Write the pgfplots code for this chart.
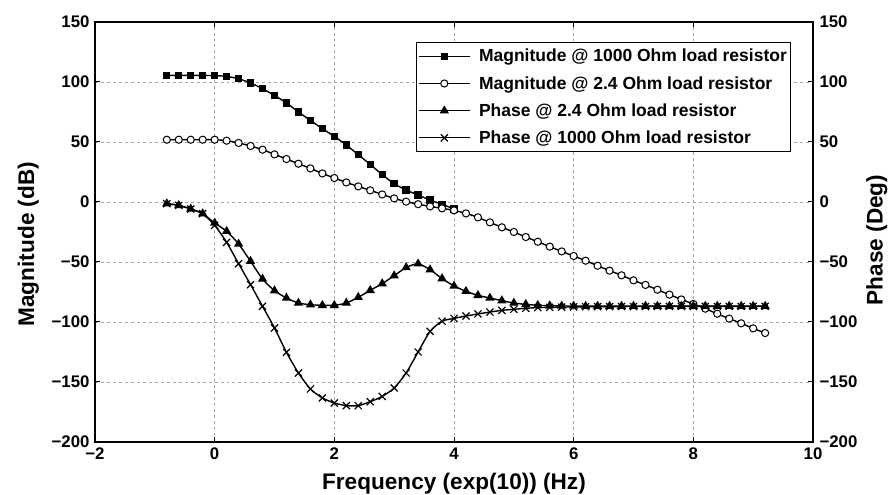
\documentclass[border=0pt]{standalone}
\usepackage{pgfplots}
\pgfplotsset{compat=1.18}
\usepackage{fontspec}
\setmainfont{Liberation Sans}

\begin{document}
\begin{tikzpicture}
\pgfplotsset{
  commonax/.style={
    scale only axis, width=718bp, height=420bp,
    xmin=-2, xmax=10, ymin=-200, ymax=150,
    ytick={-200,-150,-100,-50,0,50,100,150},
    yticklabels={−200,−150,−100,−50,0,50,100,150},
    tick align=inside, major tick length=5bp,
    axis line style={line width=1.6bp},
    every tick/.style={black, line width=1bp},
    ticklabel style={font=\fontsize{16.8bp}{18bp}\selectfont\bfseries},
    label style={font=\fontsize{22.6bp}{24bp}\selectfont\bfseries},
  }
}
\begin{axis}[commonax, name=ax,
  xtick={-2,0,2,4,6,8,10},
  xticklabels={−2,0,2,4,6,8,10},
  xticklabel style={yshift=-2bp},
  yticklabel style={xshift=-2bp},
  grid=major,
  grid style={dashed, gray!70, line width=0.6bp},
  xlabel={Frequency (exp(10)) (Hz)},
  xlabel style={at={(axis description cs:0.5,-0.098)}, anchor=center},
  ylabel={Magnitude (dB)},
  ylabel style={at={(axis description cs:-0.093,0.471)}, anchor=center, rotate=0},
  legend style={at={(rel axis cs:0.97,0.952)}, anchor=north east, draw=black, line width=1.2bp,
    font=\fontsize{17.5bp}{20bp}\selectfont\bfseries, row sep=9bp, inner xsep=2bp, inner ysep=4.5bp},
  legend cell align=left,
  legend image code/.code={\draw[#1, line width=1.3bp, mark repeat=2, mark phase=2] plot coordinates {(0bp,0bp) (25bp,0bp) (50bp,0bp)}; \path (57bp,0bp);},
]
\addplot[black, line width=1.4bp, smooth, tension=0.4, mark=square*, mark size=3bp] coordinates {
(-0.8,105.5) (-0.6,105.5) (-0.4,105.5) (-0.2,105.5) (0,105.3) (0.2,104.7) (0.4,102.7) (0.6,99.2) (0.8,94.4) (1.0,88.8) (1.2,82.5) (1.4,75) (1.6,68) (1.8,61.1) (2.0,54.7) (2.2,47.5) (2.4,39.4) (2.6,31.3) (2.8,22.8) (3.0,15.2) (3.2,10.0) (3.4,5.8) (3.6,1.6) (3.8,-1.9) (4.0,-5.8)
};
\addlegendentry{Magnitude @ 1000 Ohm load resistor}
\addplot[black, line width=1.4bp, smooth, tension=0.4, mark=*, mark size=3.6bp, mark options={fill=white, line width=1bp}] coordinates {
(-0.8,51.9) (-0.6,51.9) (-0.4,51.9) (-0.2,51.9) (0,51.9) (0.2,51.1) (0.4,49.2) (0.6,46.7) (0.8,43.6) (1.0,39.7) (1.2,35.8) (1.4,31.9) (1.6,28) (1.8,23.8) (2.0,20) (2.2,16.3) (2.4,13) (2.6,9.7) (2.8,6.3) (3.0,3) (3.2,0.3) (3.4,-1.8) (3.6,-3.7) (3.8,-5.3) (4.0,-7) (4.2,-9.5) (4.4,-12.8) (4.6,-17) (4.8,-21.1) (5.0,-25) (5.2,-29.2) (5.4,-33.1) (5.6,-37.2) (5.8,-41.2) (6.0,-45) (6.2,-48.9) (6.4,-53.1) (6.6,-57.2) (6.8,-61.1) (7.0,-65.3) (7.2,-69.1) (7.4,-73.1) (7.6,-77.2) (7.8,-81.2) (8.0,-85) (8.2,-88.9) (8.4,-93.1) (8.6,-97.2) (8.8,-101.1) (9.0,-105.3) (9.2,-109.2)
};
\addlegendentry{Magnitude @ 2.4 Ohm load resistor}
\addplot[black, line width=1.4bp, smooth, tension=0.4, mark=triangle*, mark size=4bp] coordinates {
(-0.8,-1.4) (-0.6,-2.8) (-0.4,-5.8) (-0.2,-9.7) (0,-17.5) (0.2,-24.4) (0.4,-35) (0.6,-49.4) (0.8,-64.2) (1.0,-73.9) (1.2,-80) (1.4,-84.2) (1.6,-85.6) (1.8,-86.1) (2.0,-86.1) (2.2,-84.2) (2.4,-79.4) (2.6,-73.6) (2.8,-68) (3.0,-61.4) (3.2,-54.6) (3.4,-51.5) (3.6,-56.4) (3.8,-63.8) (4.0,-70) (4.2,-74.4) (4.4,-77.8) (4.6,-80) (4.8,-82.2) (5.0,-84.2) (5.2,-85.3) (5.4,-86.1) (5.6,-86.4) (5.8,-86.6) (6.0,-86.7) (6.2,-86.8) (6.4,-86.8) (6.6,-86.8) (6.8,-86.8) (7.0,-86.8) (7.2,-86.8) (7.4,-86.8) (7.6,-86.8) (7.8,-86.8) (8.0,-86.8) (8.2,-86.8) (8.4,-86.8) (8.6,-86.8) (8.8,-86.8) (9.0,-86.8) (9.2,-86.8)
};
\addlegendentry{Phase @ 2.4 Ohm load resistor}
\addplot[black, line width=1.4bp, smooth, tension=0.4, mark=x, mark size=5bp, mark options={line width=1.2bp}] coordinates {
(-0.8,-1.4) (-0.6,-2.8) (-0.4,-5.8) (-0.2,-9.7) (0,-19.4) (0.2,-33.6) (0.4,-51.4) (0.6,-68.9) (0.8,-86.9) (1.0,-105) (1.2,-125.3) (1.4,-142.5) (1.6,-155.8) (1.8,-163.3) (2.0,-167.5) (2.2,-169.7) (2.4,-169.7) (2.6,-166.4) (2.8,-162) (3.0,-155) (3.2,-142.5) (3.4,-125) (3.6,-107.8) (3.8,-99.3) (4.0,-97) (4.2,-95) (4.4,-93.3) (4.6,-91.7) (4.8,-90.3) (5.0,-89.4) (5.2,-88.6) (5.4,-88) (5.6,-87.8) (5.8,-87.6) (6.0,-87.4) (6.2,-87.3) (6.4,-87.2) (6.6,-87.2) (6.8,-87.1) (7.0,-87.1) (7.2,-87.1) (7.4,-87) (7.6,-87) (7.8,-87) (8.0,-87) (8.2,-87) (8.4,-87) (8.6,-87) (8.8,-87) (9.0,-87) (9.2,-87)
};
\addlegendentry{Phase @ 1000 Ohm load resistor}
\end{axis}
\begin{axis}[commonax,
  axis x line=none, axis y line*=right,
  ylabel={Phase (Deg)},
  ylabel style={at={(axis description cs:1.089,0.481)}, anchor=center},
  yticklabel style={xshift=3bp},
]
\addplot[draw=none] coordinates {(0,0)};
\end{axis}
\pgfresetboundingbox
\path[use as bounding box] ([shift={(-95bp,-53bp)}]ax.south west) rectangle ++(890bp,495bp);
\end{tikzpicture}
\end{document}
